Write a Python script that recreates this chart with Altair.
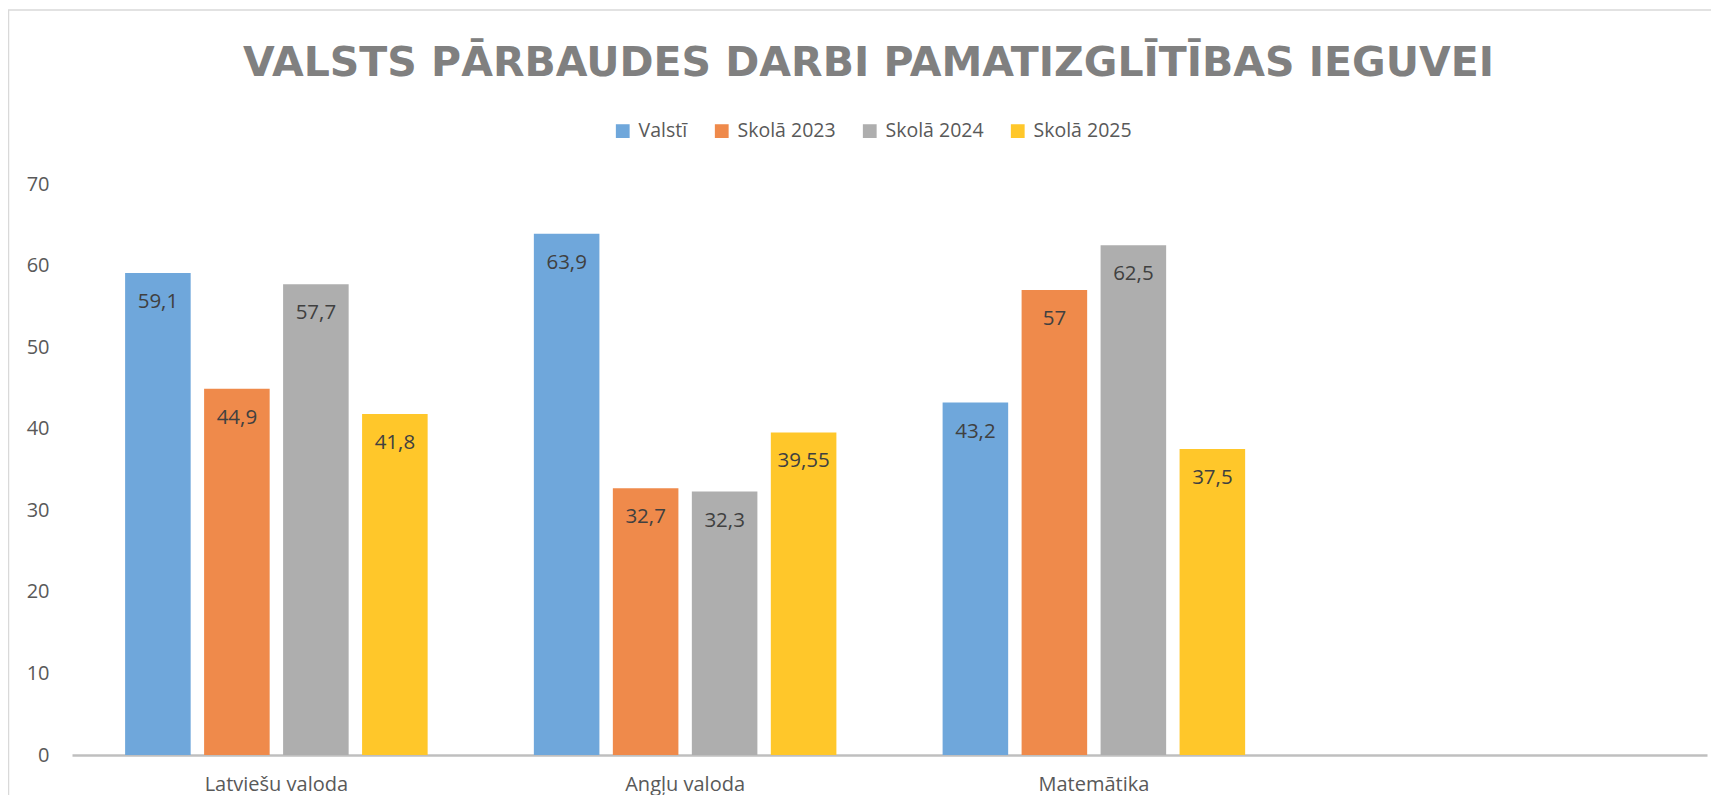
import altair as alt
import pandas as pd

# ---- data ----
categories = ["Latviešu valoda", "Angļu valoda", "Matemātika"]
series = ["Valstī", "Skolā 2023", "Skolā 2024", "Skolā 2025"]
valsti = [59.1, 63.9, 43.2]
skola_2023 = [44.9, 32.7, 57]
skola_2024 = [57.7, 32.3, 62.5]
skola_2025 = [41.8, 39.55, 37.5]
y_ticks = [0, 10, 20, 30, 40, 50, 60, 70]
x_domain = categories + [" "]  # the reference keeps an empty fourth slot
colors = ["#6FA7DB", "#EF8A4B", "#AEAEAE", "#FFC72A"]
title_text = "VALSTS PĀRBAUDES DARBI PAMATIZGLĪTĪBAS IEGUVEI"


def fmt(v):
    return ("%g" % v).replace(".", ",")


rows = []
for s, vals in zip(series, [valsti, skola_2023, skola_2024, skola_2025]):
    for c, v in zip(categories, vals):
        rows.append({"cat": c, "series": s, "value": v, "label": fmt(v)})
df = pd.DataFrame(rows)

W, H = 1635, 571
FONT = "Open Sans"

x = alt.X(
    "cat:N",
    scale=alt.Scale(domain=x_domain, paddingInner=0.227, paddingOuter=0.1135),
    axis=alt.Axis(
        title=None, labelAngle=0, ticks=False, domainColor="#BFBFBF",
        domainWidth=2.5, labelFontSize=20, labelColor="#595959",
        labelPadding=19, labelFont=FONT,
    ),
)
xoff = alt.XOffset(
    "series:N",
    scale=alt.Scale(domain=series, paddingInner=0.17, paddingOuter=0.085),
)
y = alt.Y(
    "value:Q",
    scale=alt.Scale(domain=[0, 70], nice=False),
    axis=alt.Axis(
        title=None, values=y_ticks, grid=False, domain=False, ticks=False,
        labelFontSize=20, labelColor="#595959", labelPadding=23, labelFont=FONT,
    ),
)
color = alt.Color(
    "series:N",
    scale=alt.Scale(domain=series, range=colors),
    legend=alt.Legend(
        title=None, orient="none", direction="horizontal",
        legendX=541, legendY=-63, symbolType="square", symbolSize=190,
        symbolStrokeWidth=0, labelFontSize=19.5, labelColor="#595959",
        labelFont=FONT, columnPadding=24, labelOffset=6,
    ),
)

base = alt.Chart(df)
bars = base.mark_bar().encode(x=x, xOffset=xoff, y=y, color=color)
labels = base.mark_text(
    baseline="middle", dy=29, fontSize=20.5, font=FONT, color="#404040"
).encode(x=x, xOffset=xoff, y=y, text="label:N")

border = alt.Chart(pd.DataFrame({"a": [0]})).mark_rect(
    fill="transparent", stroke="#D9D9D9", strokeWidth=1.5
).encode(
    x=alt.value(-63.5), x2=alt.value(W + 30),
    y=alt.value(-174), y2=alt.value(H + 120),
)

chart = (
    alt.layer(border, bars, labels)
    .properties(
        width=W, height=H,
        autosize=alt.AutoSizeParams(type="none"),
        padding={"left": 64, "top": 176, "right": 4, "bottom": 40},
        title=alt.TitleParams(
            title_text, font="DejaVu Sans", fontSize=41, fontWeight="bold",
            color="#808080", anchor="middle", dx=-21, offset=-76,
        ),
    )
    .configure_view(stroke=None)
)

chart.save("out.html", embed_options={"renderer": "svg", "actions": False})
